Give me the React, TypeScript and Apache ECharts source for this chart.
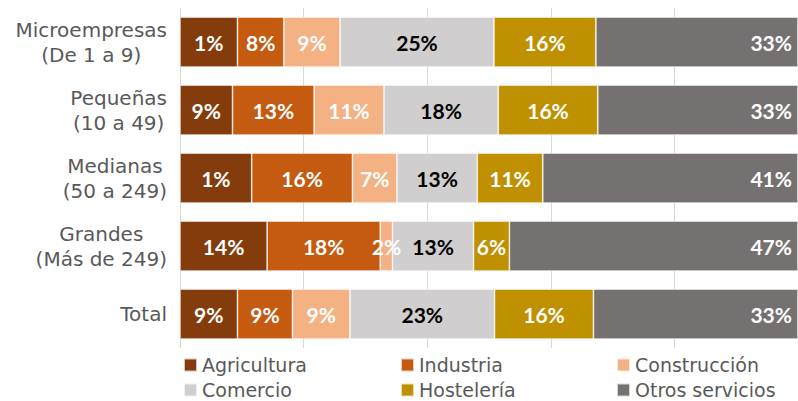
import React, { useEffect, useRef } from 'react';
import * as echarts from 'echarts';

const categories = ['Microempresas\n(De 1 a 9)', 'Pequeñas\n(10 a 49)', 'Medianas\n(50 a 249)', 'Grandes\n(Más de 249)', 'Total'];
const seriesNames = ['Agricultura', 'Industria', 'Construcción', 'Comercio', 'Hostelería', 'Otros servicios'];
const colors = ['#843C0C', '#C55A11', '#F4B183', '#D0CECE', '#BF9000', '#767171'];

// segment widths (share, %) as drawn
const agricultura = [9.3, 8.5, 11.6, 14.1, 9.3];
const industria = [7.5, 13.2, 16.3, 18.3, 8.9];
const construccion = [9.1, 11.3, 7.2, 2.0, 9.3];
const comercio = [24.9, 18.5, 13.0, 13.1, 23.4];
const hosteleria = [16.5, 16.1, 10.6, 5.8, 16.0];
const otros = [32.7, 32.4, 41.3, 46.7, 33.1];

// data labels as printed
const agriculturaLabels = ['1%', '9%', '1%', '14%', '9%'];
const industriaLabels = ['8%', '13%', '16%', '18%', '9%'];
const construccionLabels = ['9%', '11%', '7%', '2%', '9%'];
const comercioLabels = ['25%', '18%', '13%', '13%', '23%'];
const hosteleriaLabels = ['16%', '16%', '11%', '6%', '16%'];
const otrosLabels = ['33%', '33%', '41%', '47%', '33%'];

const values = [agricultura, industria, construccion, comercio, hosteleria, otros];
const labels = [agriculturaLabels, industriaLabels, construccionLabels, comercioLabels, hosteleriaLabels, otrosLabels];

const legendColumns = [
  ['Agricultura', 'Comercio'],
  ['Industria', 'Hostelería'],
  ['Construcción', 'Otros servicios'],
];
const legendLefts = [183, 400, 616];

export default function App() {
  const ref = useRef<HTMLDivElement>(null);
  useEffect(() => {
    if (!ref.current) return;
    const chart = echarts.init(ref.current, undefined, { renderer: 'svg' });
    const axisFont = {
      fontFamily: 'DejaVu Sans',
      fontSize: 20,
      color: '#595959',
      lineHeight: 25,
      align: 'center' as const,
    };
    chart.setOption({
      animation: false,
      backgroundColor: '#ffffff',
      grid: { left: 180, top: 8, width: 627, height: 340, containLabel: false },
      xAxis: {
        type: 'value',
        min: 0,
        max: 100,
        interval: 20,
        axisLabel: { show: false },
        axisLine: { show: false },
        axisTick: { show: false },
        splitLine: { show: true, lineStyle: { color: '#d9d9d9', width: 1 } },
      },
      yAxis: {
        type: 'category',
        inverse: true,
        data: categories,
        axisLine: { show: false },
        axisTick: { show: false },
        axisLabel: {
          margin: 13,
          align: 'right',
          fontFamily: 'DejaVu Sans',
          fontSize: 20,
          color: '#595959',
          lineHeight: 25,
          formatter: (v: string) => v.split('\n').map((l) => `{c|${l}}`).join('\n'),
          rich: { c: axisFont },
        },
      },
      legend: legendColumns.map((col, i) => ({
        data: col,
        orient: 'vertical',
        left: legendLefts[i],
        top: 355,
        height: 60,
        padding: 0,
        itemGap: 5,
        itemWidth: 13,
        itemHeight: 13,
        icon: 'rect',
        selectedMode: false,
        textStyle: { fontFamily: 'DejaVu Sans', fontSize: 19, color: '#595959', lineHeight: 20 },
      })),
      series: seriesNames.map((name, si) => ({
        name,
        type: 'bar',
        stack: 'total',
        barWidth: 50,
        data: values[si],
        itemStyle: { color: colors[si], borderColor: 'rgba(255,255,255,0.7)', borderWidth: 0.75 },
        label: {
          show: true,
          position: si === 5 ? 'insideRight' : 'inside',
          distance: si === 5 ? 6 : 5,
          formatter: (p: any) => labels[si][p.dataIndex],
          fontFamily: 'Lato',
          fontWeight: 'bold',
          fontSize: 21,
          color: si === 3 ? '#000000' : '#ffffff',
        },
      })),
    });
    return () => chart.dispose();
  }, []);
  return <div ref={ref} style={{ position: 'fixed', left: 0, top: 0, width: 798, height: 401 }} />;
}
